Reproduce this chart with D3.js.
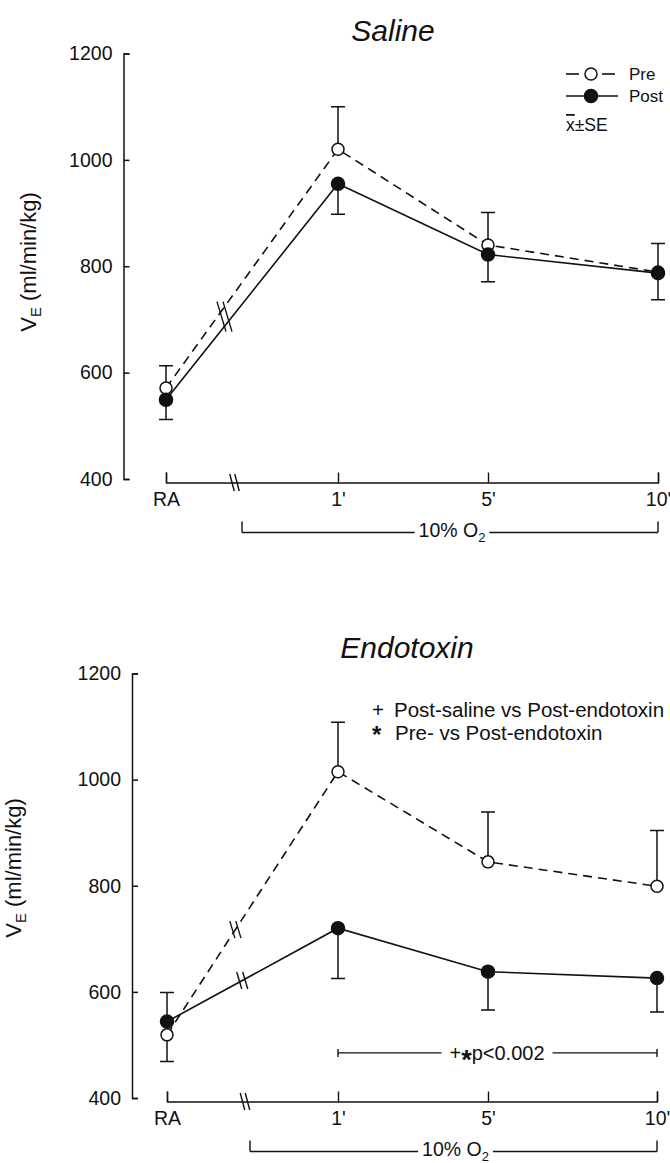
<!DOCTYPE html>
<html lang="en">
<head>
<meta charset="utf-8">
<title>VE pre/post saline and endotoxin</title>
<script src="https://cdn.jsdelivr.net/npm/d3@7"></script>
<style>
  body { margin: 0; background: #fff; }
  svg text { font-family: "Liberation Sans", Arial, Helvetica, sans-serif; fill: #111; }
</style>
</head>
<body>
<script>
var width = 670;
var height = 1163;

// time points on the x axis (RA = room air, then minutes of 10% O2)
var timepoints = ["RA", "1'", "5'", "10'"];
var yTicks = [400, 600, 800, 1000, 1200];

// Saline panel, ml/min/kg (mean and SE)
var salinePre    = [571, 1020, 840, 789];
var salinePreSE  = [42, 80, 61, 54];
var salinePost   = [549, 955, 822, 787];
var salinePostSE = [37, 57, 51, 50];

// Endotoxin panel
var endoPre    = [519, 1015, 845, 799];
var endoPreSE  = [50, 93, 94, 105];
var endoPost   = [544, 720, 638, 626];
var endoPostSE = [55, 95, 72, 64];

var legendLabels = ["Pre", "Post"];
var sigNotes = ["Post-saline vs Post-endotoxin", "Pre- vs Post-endotoxin"];
var sigText = "p<0.002";

var svg = d3.select("body").append("svg")
  .attr("width", width)
  .attr("height", height);

svg.append("rect").attr("width", width).attr("height", height).attr("fill", "#fff");

var ink = "#111";

function breakMarks(g, cx, cy, len, lean, gap) {
  // two short parallel strokes, leaning top-left to bottom-right
  [-gap / 2, gap / 2].forEach(function(o) {
    g.append("line")
      .attr("x1", cx + o - lean / 2).attr("y1", cy - len / 2)
      .attr("x2", cx + o + lean / 2).attr("y2", cy + len / 2)
      .attr("stroke", ink).attr("stroke-width", 1.4);
  });
}

function bracket(g, x0, x1, yy, up, down) {
  g.append("path")
    .attr("d", "M" + x0 + "," + (yy - up) + "V" + (yy + down) +
               "M" + x0 + "," + yy + "H" + x1 +
               "M" + x1 + "," + (yy - up) + "V" + (yy + down))
    .attr("fill", "none").attr("stroke", ink).attr("stroke-width", 1.4);
}

function maskText(g, txt, pad) {
  var b = txt.node().getBBox();
  g.insert("rect", function() { return txt.node(); })
    .attr("x", b.x - pad).attr("y", b.y)
    .attr("width", b.width + 2 * pad).attr("height", b.height)
    .attr("fill", "#fff");
}

function drawPanel(cfg) {
  var g = svg.append("g");

  var y = d3.scaleLinear().domain([400, 1200]).range(cfg.yRange);
  var x = d3.scaleOrdinal().domain(timepoints).range(cfg.xRange);

  // title
  g.append("text")
    .attr("x", cfg.titleX).attr("y", cfg.titleY)
    .attr("text-anchor", "middle")
    .style("font-style", "italic")
    .style("font-size", "30px")
    .text(cfg.title);

  // y axis, ticks pointing inward
  var ya = g.append("g")
    .attr("transform", "translate(" + cfg.axisX + ",0)")
    .call(d3.axisLeft(y).tickValues(yTicks)
      .tickSizeInner(-6).tickSizeOuter(-6).tickPadding(11)
      .tickFormat(d3.format("d")));
  ya.selectAll("path, line").attr("stroke", ink).attr("stroke-width", 1.5);
  ya.selectAll("text").style("font-size", "19.5px");

  var yl = g.append("text")
    .attr("transform", "translate(" + cfg.ylabX + "," + cfg.ylabY + ") rotate(-90)")
    .attr("text-anchor", "middle")
    .style("font-size", "22px");
  yl.append("tspan").text("V");
  yl.append("tspan").attr("dy", 5).style("font-size", "15px").text("E");
  yl.append("tspan").attr("dy", -5).text(" (ml/min/kg)");

  // x axis sits just under the 400 line
  var xAxisY = y(400) + 3.5;
  var xa = g.append("g")
    .attr("transform", "translate(0," + xAxisY + ")")
    .call(d3.axisBottom(x).tickSizeInner(-10).tickSizeOuter(-10).tickPadding(10));
  xa.selectAll("path, line").attr("stroke", ink).attr("stroke-width", 1.4);
  xa.selectAll("text").style("font-size", "19.5px");
  breakMarks(g, cfg.axisBreakX, xAxisY, 17, 4.5, 5);

  // 10% O2 bracket
  var o2y = xAxisY + 50;
  bracket(g, cfg.o2Start, x("10'"), o2y, 11, 0);
  var o2 = g.append("text")
    .attr("x", (cfg.o2Start + x("10'")) / 2 + 2).attr("y", o2y + 4.5)
    .attr("text-anchor", "middle")
    .style("font-size", "19.5px");
  o2.append("tspan").text("10% O");
  o2.append("tspan").attr("dy", 5).style("font-size", "13px").text("2");
  maskText(g, o2, 4);

  var series = [
    { vals: cfg.pre,  se: cfg.preSE,  other: cfg.post, dash: "9,6", open: true },
    { vals: cfg.post, se: cfg.postSE, other: cfg.pre,  dash: null,  open: false }
  ];

  var line = d3.line()
    .x(function(d, i) { return x(timepoints[i]); })
    .y(function(d) { return y(d); });

  series.forEach(function(s) {
    g.append("path")
      .attr("d", line(s.vals))
      .attr("fill", "none")
      .attr("stroke", ink)
      .attr("stroke-width", 1.6)
      .attr("stroke-dasharray", s.dash);

    // error bar drawn away from the other group
    s.vals.forEach(function(v, i) {
      var dir = v >= s.other[i] ? 1 : -1;
      var xx = x(timepoints[i]);
      var yEnd = y(v + dir * s.se[i]);
      g.append("path")
        .attr("d", "M" + xx + "," + y(v) + "V" + yEnd + "M" + (xx - 7) + "," + yEnd + "H" + (xx + 7))
        .attr("fill", "none").attr("stroke", ink).attr("stroke-width", 1.5);
    });
  });

  // break marks on the RA -> 1' segment
  cfg.lineBreaks.forEach(function(b) {
    var ys = b.which.map(function(k) {
      var s = k === "pre" ? cfg.pre : cfg.post;
      return y(s[0]) + b.t * (y(s[1]) - y(s[0]));
    });
    var bx = x("RA") + b.t * (x("1'") - x("RA"));
    breakMarks(g, bx, d3.mean(ys), b.len, b.len * 0.3, 6);
  });

  series.forEach(function(s) {
    g.selectAll(null).data(s.vals).enter().append("circle")
      .attr("cx", function(d, i) { return x(timepoints[i]); })
      .attr("cy", function(d) { return y(d); })
      .attr("r", s.open ? 6 : 6.5)
      .attr("fill", s.open ? "#fff" : ink)
      .attr("stroke", ink)
      .attr("stroke-width", 1.5);
  });

  return { g: g, x: x, y: y };
}

// ---- Saline ----
var salinePanel = drawPanel({
  title: "Saline", titleX: 393, titleY: 41,
  yRange: [479, 53.5], axisX: 123.5,
  xRange: [166, 338, 488, 658],
  ylabX: 36, ylabY: 262,
  axisBreakX: 234.5, o2Start: 242,
  pre: salinePre, preSE: salinePreSE, post: salinePost, postSE: salinePostSE,
  lineBreaks: [{ which: ["pre", "post"], t: 0.34, len: 30 }]
});

// legend
var lg = salinePanel.g.append("g");
[0, 1].forEach(function(i) {
  var ly = 74 + i * 22;
  if (i === 0) {
    lg.append("line").attr("x1", 566).attr("x2", 579).attr("y1", ly).attr("y2", ly)
      .attr("stroke", ink).attr("stroke-width", 1.6);
    lg.append("line").attr("x1", 602).attr("x2", 615).attr("y1", ly).attr("y2", ly)
      .attr("stroke", ink).attr("stroke-width", 1.6);
  } else {
    lg.append("line").attr("x1", 566).attr("x2", 618).attr("y1", ly).attr("y2", ly)
      .attr("stroke", ink).attr("stroke-width", 1.6);
  }
  lg.append("circle").attr("cx", 591).attr("cy", ly).attr("r", i === 0 ? 6 : 6.5)
    .attr("fill", i === 0 ? "#fff" : ink).attr("stroke", ink).attr("stroke-width", 1.5);
  lg.append("text").attr("x", 629).attr("y", ly + 6).style("font-size", "17px").text(legendLabels[i]);
});
var seText = lg.append("text").attr("x", 566).attr("y", 131).style("font-size", "17.5px");
seText.append("tspan").style("text-decoration", "overline").text("x");
seText.append("tspan").text("\u00b1SE");

// ---- Endotoxin ----
var endoPanel = drawPanel({
  title: "Endotoxin", titleX: 407, titleY: 658,
  yRange: [1098, 673.5], axisX: 132,
  xRange: [167, 338, 488, 657],
  ylabX: 21, ylabY: 868,
  axisBreakX: 245, o2Start: 250,
  pre: endoPre, preSE: endoPreSE, post: endoPost, postSE: endoPostSE,
  lineBreaks: [
    { which: ["pre"], t: 0.40, len: 17 },
    { which: ["post"], t: 0.44, len: 17 }
  ]
});

var ng = endoPanel.g.append("g");
ng.append("text").attr("x", 372).attr("y", 717).style("font-size", "20.5px").text("+");
ng.append("text").attr("x", 394).attr("y", 717).style("font-size", "20.5px").text(sigNotes[0]);
ng.append("text").attr("x", 372).attr("y", 743).style("font-size", "24px").style("font-weight", "bold").text("*");
ng.append("text").attr("x", 395).attr("y", 740).style("font-size", "20.5px").text(sigNotes[1]);

// significance bracket from 1' to 10'
var py = endoPanel.y(485);
bracket(ng, endoPanel.x("1'"), endoPanel.x("10'"), py, 4, 4);
var pt = ng.append("text")
  .attr("x", 497).attr("y", py + 7)
  .attr("text-anchor", "middle")
  .style("font-size", "20px");
pt.append("tspan").text("+");
pt.append("tspan").attr("dy", 9).style("font-size", "27px").style("font-weight", "bold").text("*");
pt.append("tspan").attr("dy", -9).text(sigText);
maskText(ng, pt, 8);
</script>
</body>
</html>
